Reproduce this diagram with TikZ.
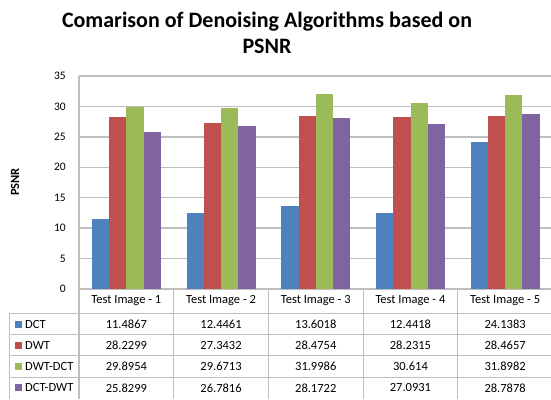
\documentclass[tikz,border=0pt]{standalone}
\usepackage{fontspec}
\setmainfont{Carlito}
\definecolor{cdct}{HTML}{4F81BD}
\definecolor{cdwt}{HTML}{C0504D}
\definecolor{cdwtdct}{HTML}{9BBB59}
\definecolor{cdctdwt}{HTML}{8064A2}
\definecolor{gridgray}{HTML}{BEBEBE}
\begin{document}
\begin{tikzpicture}[x=1pt,y=-1pt,
  grid/.style={draw=gridgray,line width=1.3pt},
  rule/.style={draw=gridgray,line width=0.8pt},
  cell/.style={font=\fontsize{12.5}{14}\selectfont,inner sep=0pt}]
\useasboundingbox (0,0) rectangle (551,399);
% title and axis label
\node[font=\fontsize{22}{26}\selectfont\bfseries,align=center,anchor=base] (title) at (267,53)
  {Comarison of Denoising Algorithms based on\\PSNR};
\node[font=\fontsize{12.5}{14}\selectfont\bfseries,rotate=90] (ylabel) at (15,182) {PSNR};
% gridlines and tick labels
\foreach \v in {0,5,...,35}{
  \draw[grid] (79,{289-\v*6.086}) -- (551,{289-\v*6.086});
  \node[cell,font=\fontsize{11.5}{13}\selectfont,anchor=east] (tick\v) at (66,{289-\v*6.086}) {\v};
}
% bars, keys and values
\foreach \j/\col/\name/\data in {
  0/cdct/DCT/{11.4867,12.4461,13.6018,12.4418,24.1383},
  1/cdwt/DWT/{28.2299,27.3432,28.4754,28.2315,28.4657},
  2/cdwtdct/DWT-DCT/{29.8954,29.6713,31.9986,30.614,31.8982},
  3/cdctdwt/DCT-DWT/{25.8299,26.7816,28.1722,27.0931,28.7878}}{
  \foreach \v [count=\i] in \data{
    \fill[\col] ({79+(\i-1)*94.7+13+\j*17.2},289) rectangle ++(17.2,{-\v*6.086});
    \node[cell] (val\j\i) at ({79+(\i-0.5)*94.7},{324+\j*21.3}) {\v};
  }
  \fill[\col] (15,{320.5+\j*21.3}) rectangle ++(7,7);
  \node[cell,anchor=west] (key\j) at (25,{324+\j*21.3}) {\name};
}
% data table
\draw[grid] (79,76) -- (79,399);
\foreach \i in {1,...,5}{
  \node[cell] (head\i) at ({79+(\i-0.5)*94.7},301) {Test Image - \i};
}
\foreach \i in {1,...,4} \draw[rule] ({79+\i*94.7},289) -- ++(0,110);
\foreach \r in {0,...,3} \draw[rule] (9.5,{313+\r*21.3}) -- (551,{313+\r*21.3});
\draw[rule] (9.5,313) -- (9.5,399);
\end{tikzpicture}
\end{document}
